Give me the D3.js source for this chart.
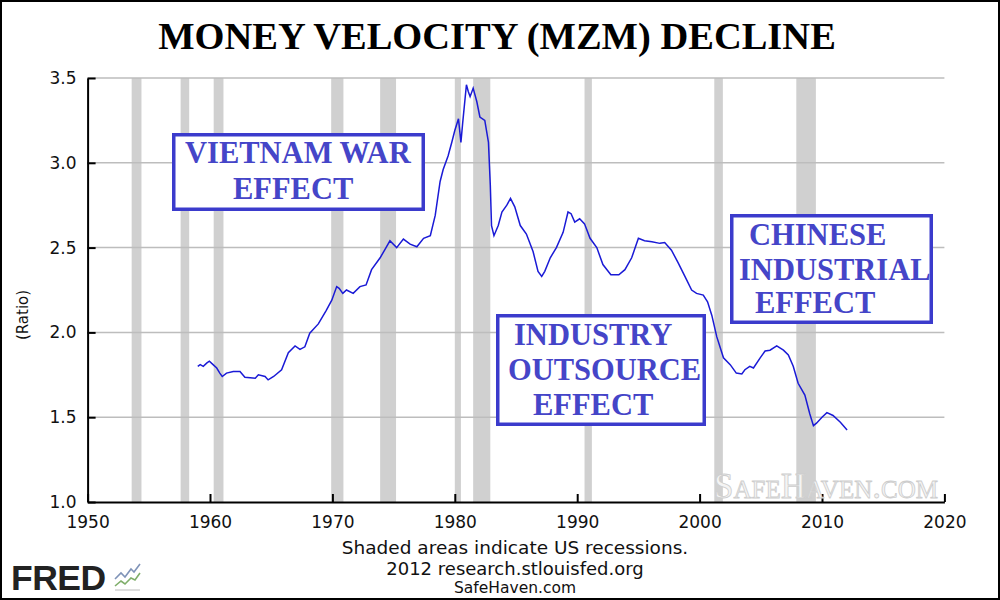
<!DOCTYPE html>
<html><head><meta charset="utf-8">
<script src="https://cdn.jsdelivr.net/npm/d3@7"></script>
<style>
html,body{margin:0;padding:0;background:#fff;}
svg{display:block;}
</style></head>
<body>
<script>
// ---- data ----
const years = [1959.0,1959.2,1959.45,1959.75,1959.95,1960.25,1960.55,1960.8,1961.0,1961.35,1961.9,1962.45,1962.85,1963.7,1963.95,1964.5,1964.75,1965.2,1965.85,1966.4,1966.95,1967.35,1967.75,1968.15,1968.85,1969.5,1969.95,1970.35,1970.55,1970.85,1971.15,1971.7,1972.25,1972.75,1973.2,1973.9,1974.3,1974.7,1975.25,1975.8,1976.35,1976.9,1977.45,1978.0,1978.4,1978.8,1979.05,1979.45,1979.75,1980.0,1980.3,1980.5,1980.65,1980.95,1981.1,1981.25,1981.5,1981.8,1982.05,1982.45,1982.75,1982.9,1983.0,1983.2,1983.55,1983.85,1984.25,1984.55,1984.9,1985.35,1985.85,1986.4,1986.8,1987.1,1987.35,1987.8,1988.3,1988.85,1989.25,1989.5,1989.8,1990.2,1990.6,1991.05,1991.6,1992.1,1992.75,1993.4,1993.9,1994.45,1995.0,1995.5,1996.1,1996.75,1997.15,1997.7,1998.25,1998.8,1999.35,1999.75,2000.3,2000.65,2001.0,2001.4,2001.95,2002.5,2003.0,2003.45,2003.7,2004.1,2004.4,2004.95,2005.35,2005.75,2006.3,2006.85,2007.25,2007.65,2008.05,2008.6,2009.0,2009.3,2009.55,2010.0,2010.4,2010.9,2011.5,2012.05];
const velocity = [1.80,1.81,1.80,1.82,1.83,1.81,1.79,1.76,1.74,1.76,1.77,1.77,1.735,1.73,1.75,1.74,1.72,1.74,1.78,1.88,1.92,1.90,1.915,1.995,2.05,2.13,2.19,2.27,2.26,2.23,2.25,2.23,2.27,2.28,2.37,2.44,2.49,2.54,2.50,2.55,2.52,2.505,2.555,2.57,2.69,2.89,2.96,3.04,3.12,3.19,3.26,3.12,3.24,3.46,3.42,3.39,3.44,3.36,3.27,3.25,3.12,2.87,2.63,2.57,2.63,2.71,2.75,2.79,2.74,2.63,2.58,2.475,2.36,2.33,2.36,2.44,2.50,2.59,2.71,2.70,2.65,2.67,2.64,2.555,2.50,2.40,2.34,2.34,2.37,2.44,2.555,2.54,2.535,2.525,2.53,2.485,2.41,2.33,2.25,2.23,2.22,2.18,2.10,1.975,1.85,1.81,1.76,1.755,1.78,1.80,1.79,1.85,1.89,1.895,1.92,1.895,1.867,1.80,1.70,1.63,1.52,1.45,1.465,1.50,1.527,1.51,1.47,1.425];
const recessionStart = [1953.6,1957.6,1960.3,1969.9,1973.9,1980.0,1981.5,1990.6,2001.2,2007.9];
const recessionEnd   = [1954.4,1958.3,1961.1,1970.9,1975.2,1980.5,1982.9,1991.2,2001.9,2009.5];
const xTicks = [1950,1960,1970,1980,1990,2000,2010,2020];
const yTicks = [1.0,1.5,2.0,2.5,3.0,3.5];
const title = "MONEY VELOCITY (MZM) DECLINE";
const yLabel = "(Ratio)";
const footnotes = ["Shaded areas indicate US recessions.","2012 research.stlouisfed.org","SafeHaven.com"];
const annotations = [
  ["VIETNAM WAR","EFFECT"],
  ["INDUSTRY","OUTSOURCE","EFFECT"],
  ["CHINESE","INDUSTRIAL","EFFECT"]
];

// ---- layout ----
const W=1000,H=600;
const svg=d3.select("body").append("svg").attr("width",W).attr("height",H);
svg.append("rect").attr("x",1).attr("y",1).attr("width",W-2).attr("height",H-2)
  .attr("fill","#fff").attr("stroke","#000").attr("stroke-width",2);

const x=d3.scaleLinear().domain([1950,2020]).range([87.6,944.4]);
const y=d3.scaleLinear().domain([1,3.5]).range([502,78]);

// recessions
svg.append("g").selectAll("rect").data(recessionStart.map((s,i)=>[s,recessionEnd[i]]))
  .join("rect").attr("x",d=>x(d[0])).attr("width",d=>x(d[1])-x(d[0]))
  .attr("y",y(3.5)).attr("height",y(1)-y(3.5)).attr("fill","#d0d0d0");

// gridlines
svg.append("g").selectAll("line").data(yTicks.slice(1)).join("line")
  .attr("x1",x(1950)).attr("x2",x(2020)).attr("y1",d=>y(d)).attr("y2",d=>y(d))
  .attr("stroke","#bdbdbd").attr("stroke-width",1.5);

// axes
const fontAxis="'DejaVu Sans', Verdana, sans-serif";
const gy=svg.append("g").attr("transform",`translate(${x(1950)},0)`)
  .call(d3.axisLeft(y).tickValues(yTicks).tickFormat(d3.format(".1f")).tickSizeInner(-8).tickSizeOuter(0).tickPadding(11));
const gx=svg.append("g").attr("transform",`translate(0,${y(1)})`)
  .call(d3.axisBottom(x).tickValues(xTicks).tickFormat(d3.format("d")).tickSizeInner(-8).tickSizeOuter(0).tickPadding(14));
[gx,gy].forEach(g=>{
  g.selectAll("path.domain").attr("stroke","#000").attr("stroke-width",2);
  g.selectAll(".tick line").attr("stroke","#000").attr("stroke-width",2);
  g.selectAll("text").attr("font-family",fontAxis).attr("font-size",17).attr("fill","#111");
});

// line
const pts=years.map((yr,i)=>[yr,velocity[i]]);
svg.append("path").datum(pts)
  .attr("d",d3.line().x(d=>x(d[0])).y(d=>y(d[1])))
  .attr("fill","none").attr("stroke","#1a1ad6").attr("stroke-width",1.5);

// watermark
svg.append("text").attr("x",826).attr("y",498).attr("text-anchor","middle")
  .attr("font-family","'Liberation Serif', serif").attr("font-size",35)
  .style("font-variant","small-caps").attr("fill","#f4f4f4").attr("stroke","#cdcdcd").attr("stroke-width",0.8)
  .text("SafeHaven.com");

// title
svg.append("text").attr("x",497).attr("y",49).attr("text-anchor","middle")
  .attr("font-family","'Liberation Serif','Times New Roman',serif").attr("font-weight","bold")
  .attr("font-size",38.5).attr("fill","#000").text(title);

// y label
svg.append("text").attr("transform","translate(28,315) rotate(-90)").attr("text-anchor","middle")
  .attr("font-family",fontAxis).attr("font-size",15).attr("fill","#111").text(yLabel);

// footnotes
const fy=[554,575,593];
const fs=[18.5,18,15.5];
footnotes.forEach((t,i)=>svg.append("text").attr("x",515).attr("y",fy[i]).attr("text-anchor","middle")
  .attr("font-family",fontAxis).attr("font-size",fs[i]).attr("fill","#111").text(t));

// FRED logo
svg.append("text").attr("x",11).attr("y",590).attr("font-family","'Liberation Sans',Arial,sans-serif")
  .attr("font-weight","bold").attr("font-size",35.5).attr("letter-spacing",-0.5).attr("fill","#222").text("FRED");
const logo=svg.append("g").attr("fill","none").attr("stroke-width",1.6);
logo.append("path").attr("d","M115,579 L121,573 L125,577 L131,569 L134,572 L140,564").attr("stroke","#7f93b8");
logo.append("path").attr("d","M115,586 L121,581 L125,584 L131,578 L135,580 L140,573").attr("stroke","#7fae6a");
logo.append("path").attr("d","M115,590 L140,590").attr("stroke","#bcbcbc").attr("stroke-width",1);

// annotation boxes
const boxes=[
  {x:172,y:133,w:253,h:78,lines:[[185,163],[233,199]]},
  {x:496,y:314,w:210,h:112,lines:[[514,345],[508,380],[533,415]]},
  {x:730,y:214,w:203,h:110,lines:[[749,245],[739,280],[755,313]]}
];
boxes.forEach((b,i)=>{
  svg.append("rect").attr("x",b.x+1.75).attr("y",b.y+1.75).attr("width",b.w-3.5).attr("height",b.h-3.5)
    .attr("fill","#fff").attr("stroke","#3b3bcc").attr("stroke-width",3.5);
  annotations[i].forEach((t,j)=>svg.append("text").attr("x",b.lines[j][0]).attr("y",b.lines[j][1])
    .attr("font-family","'Liberation Serif','Times New Roman',serif").attr("font-weight","bold")
    .attr("font-size",30.5).attr("fill","#4545c8").text(t));
});
</script>
</body></html>
